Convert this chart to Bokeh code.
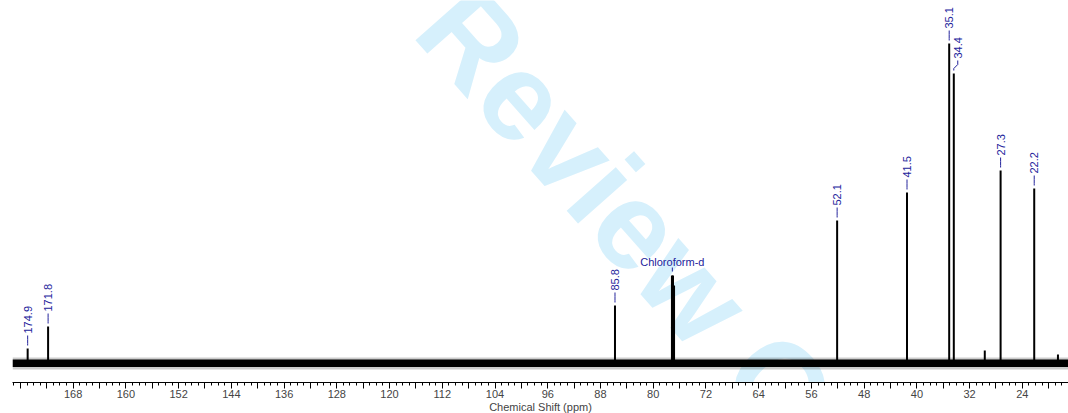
import numpy as np
from bokeh.plotting import figure
from bokeh.models import ColumnDataSource, FixedTicker, Range1d, Label
from bokeh.core.properties import value
from bokeh.embed import file_html
from bokeh.resources import INLINE

# ---- data ----
peak_ppm = [174.9, 171.8, 85.8, 77.16, 77.00, 76.84, 52.1, 41.5, 35.1, 34.4, 29.7, 27.3, 22.2, 18.6]
peak_height = [14, 36, 57, 87, 87, 77, 142, 170, 319, 289, 12, 192, 174, 8]

label_ppm = [174.9, 171.8, 85.8, 52.1, 41.5, 35.1, 34.4, 27.3, 22.2]
label_text = ["174.9", "171.8", "85.8", "52.1", "41.5", "35.1", "34.4", "27.3", "22.2"]

solvent_ppm = 77.1
solvent_label = "Chloroform-d"

spectrum_ppm = [177.2, 17.0]
noise_outer = [-7, 5]
noise_inner = [-4.5, 3]

major_ticks = [20, 24, 28, 32, 36, 40, 44, 48, 52, 56, 60, 64, 68, 72, 76, 80, 84, 88, 92, 96,
               100, 104, 108, 112, 116, 120, 124, 128, 132, 136, 140, 144, 148, 152, 156, 160,
               164, 168, 172, 176]
labeled_ticks = [24, 32, 40, 48, 56, 64, 72, 80, 88, 96, 104, 112, 120, 128, 136, 144, 152, 160, 168]
tick_labels = ["24", "32", "40", "48", "56", "64", "72", "80", "88", "96", "104", "112", "120",
               "128", "136", "144", "152", "160", "168"]
minor_ticks = list(range(17, 178))

FONT = "Liberation Sans"
LAB_COLOR = "#23239b"

p = figure(frame_width=1056, frame_height=382,
           x_range=Range1d(spectrum_ppm[0], spectrum_ppm[1]),
           y_range=Range1d(-20, 362),
           output_backend="svg", toolbar_location=None,
           min_border_left=12, min_border_right=0, min_border_top=0, min_border_bottom=0,
           y_axis_location=None, outline_line_color=None,
           background_fill_color="white", border_fill_color="white")
p.xgrid.visible = False
p.ygrid.visible = False

# watermark
wm = Label(x=112.0, y=357, text="Review Copy", angle=-0.846, angle_units="rad",
           text_font=FONT, text_font_size="124px", text_font_style="bold",
           text_color="#d6f0fc", text_align="left", text_baseline="alphabetic",
           level="underlay")
p.add_layout(wm)

# noise band
p.varea(x=spectrum_ppm, y1=[noise_outer[0]] * 2, y2=[noise_outer[1]] * 2,
        fill_color="black", fill_alpha=0.2)
p.varea(x=spectrum_ppm, y1=[noise_inner[0]] * 2, y2=[noise_inner[1]] * 2,
        fill_color="black", fill_alpha=1.0)

# peaks
p.segment(x0=peak_ppm, y0=[0] * len(peak_ppm), x1=peak_ppm, y1=peak_height,
          line_color="black", line_width=2)

# peak labels
height_of = dict(zip(peak_ppm, peak_height))
shift = {34.4: -0.6}
xs, ys, tx, ty = [], [], [], []
for ppm in label_ppm:
    h = height_of[ppm]
    s = shift.get(ppm, 0.0)
    xs.append([ppm, ppm, ppm + s, ppm + s])
    ys.append([h + 3, h + 5, h + 9, h + 13])
    tx.append(ppm + s)
    ty.append(h + 15)
p.multi_line(xs=xs, ys=ys, line_color=LAB_COLOR, line_width=1)
p.text(x=tx, y=ty, text=label_text, angle=np.pi / 2, text_align="left",
       text_baseline="middle", text_font=value(FONT), text_font_size="11px",
       text_color=LAB_COLOR)

# solvent label
hs = max(peak_height[3:6])
p.segment(x0=[solvent_ppm], y0=[hs + 4], x1=[solvent_ppm], y1=[hs + 8],
          line_color=LAB_COLOR, line_width=1)
p.text(x=[solvent_ppm], y=[hs + 14], text=[solvent_label], text_align="center",
       text_baseline="alphabetic", text_font=value(FONT), text_font_size="11px",
       text_color=LAB_COLOR)

# x axis
ax = p.xaxis[0]
ax.ticker = FixedTicker(ticks=major_ticks, minor_ticks=minor_ticks)
overrides = {t: "" for t in major_ticks}
overrides.update({t: lab for t, lab in zip(labeled_ticks, tick_labels)})
ax.major_label_overrides = overrides
ax.axis_label = "Chemical Shift (ppm)"
ax.axis_label_text_font = FONT
ax.axis_label_text_font_size = "11px"
ax.axis_label_text_font_style = "normal"
ax.axis_label_standoff = 0
ax.major_label_text_font = FONT
ax.major_label_text_font_size = "11px"
ax.major_label_standoff = 1
ax.major_tick_in = 0
ax.major_tick_out = 6
ax.minor_tick_in = 0
ax.minor_tick_out = 3
ax.axis_line_color = "black"
ax.major_tick_line_color = "black"
ax.minor_tick_line_color = "black"

open("out.html", "w").write(file_html(p, INLINE))
